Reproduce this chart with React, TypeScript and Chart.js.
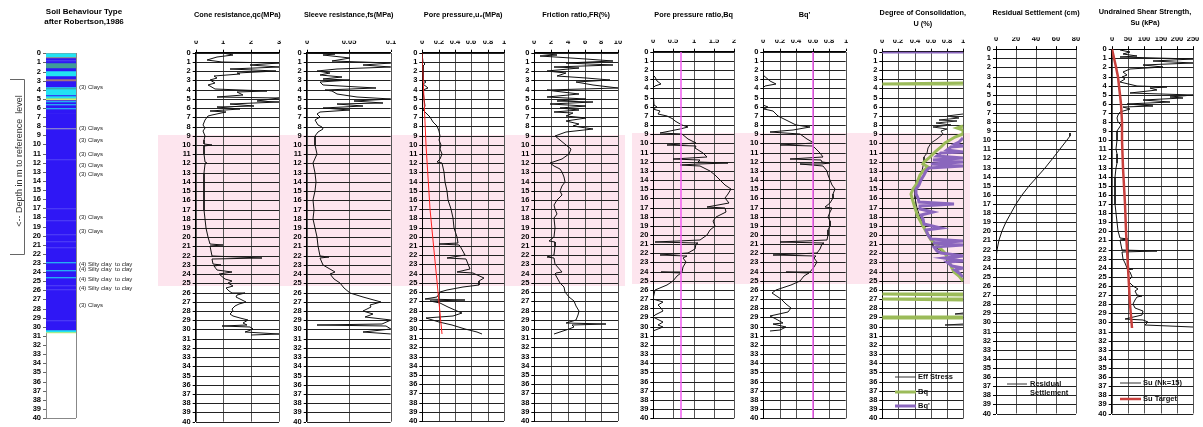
import React, { useEffect, useRef } from "react";
import { Chart, registerables } from "chart.js";

Chart.register(...registerables);

const FONT = '"Liberation Sans", Arial, Helvetica, sans-serif';
const H = 427;
const Y_AXIS_W = 18;
const X_AXIS_H = 12;
const PINK = "#fde5ee";
const PINK_TOP = 8.9;
const PINK_BOTTOM = 25.3;

// ---------------- data (depth m, value); null = gap in the trace ----------------
const qcData: (number | null)[][] = [[0,1.0],[0.25,1.35],[0.5,0.75],[0.8,0.42],[1.0,0.95],[1.15,3.0],[1.35,1.95],[1.5,3.0],[1.75,1.25],[2.0,2.9],[2.15,1.5],[2.3,1.6],[2.5,0.65],[2.75,0.75],[2.95,0.5],[3.25,0.7],[3.5,0.45],[3.65,0.5],[3.95,0.7],[4.1,2.55],[4.3,1.5],[4.55,1.7],[4.8,0.75],[4.95,3.0],[5.2,2.2],[5.35,3.0],[5.55,1.25],[5.75,2.1],[5.9,0.75],[6.1,1.6],[6.3,0.5],[6.45,1.1],[6.7,0.58],[6.9,0.45],[7.25,0.34],[7.8,0.28],[8.2,0.34],[8.5,0.28],[9.0,0.34],[9.5,0.3],[9.9,0.3],[10.0,0.58],[10.1,0.3],[11,0.3],[11.9,0.32],[12.0,0.42],[12.1,0.32],[13,0.3],[14,0.29],[15,0.3],[16,0.29],[17,0.31],[18,0.33],[19,0.37],[20,0.45],[20.7,0.5],[20.8,0.97],[20.9,0.52],[21.5,0.55],[22,0.58],[22.25,2.37],[22.35,0.6],[22.9,0.64],[23.0,0.9],[23.1,0.66],[23.6,0.75],[23.8,1.3],[24.0,0.85],[24.5,1.05],[24.8,1.3],[25.0,1.15],[25.3,1.35],[25.5,1.1],[25.8,1.2],[26.0,1.3],[26.1,1.78],[26.3,1.5],[26.5,1.45],[26.8,1.65],[27.0,1.8],[27.2,1.55],[27.5,1.42],[27.8,1.3],[28.0,1.35],[28.3,1.25],[28.5,1.36],[28.8,1.6],[29.0,1.9],[29.3,1.72],[29.5,1.85],[29.6,0.94],[29.7,1.95],[30.0,2.08],[30.2,1.9],[30.3,1.78],[30.45,3.0],[30.55,2.0]];

const fsData: (number | null)[][] = [[0,0.002],[0.15,0.034],[0.3,0.02],[0.6,0.052],[0.9,0.03],[1.1,0.1],[1.3,0.067],[1.5,0.1],[1.75,0.036],[2.0,0.012],[2.2,0.028],[2.4,0.016],[2.6,0.042],[2.8,0.02],[3.0,0.052],[3.2,0.016],[3.5,0.02],[3.8,0.083],[4.0,0.022],[4.2,0.03],[4.5,0.036],[4.8,0.06],[5.0,0.1],[5.2,0.056],[5.4,0.091],[5.6,0.036],[5.8,0.067],[6.0,0.02],[6.2,0.052],[6.4,0.016],[6.6,0.012],[7.0,0.016],[7.3,0.01],[7.8,0.014],[8.0,0.018],[8.3,0.02],[8.6,0.014],[9,0.01],[10,0.01],[11,0.012],[12,0.008],[13,0.01],[14,0.011],[15,0.01],[16,0.008],[17,0.009],[18,0.008],[19,0.01],[20,0.012],[21,0.014],[22,0.016],[22.2,0.026],[22.3,0.016],[23,0.02],[23.8,0.034],[24,0.028],[24.5,0.032],[25,0.04],[25.5,0.044],[26,0.052],[26.5,0.067],[27,0.089],[27.3,0.075],[27.6,0.077],[28,0.067],[28.3,0.079],[28.6,0.069],[29,0.1],[29.4,0.09],[29.5,0.012],[29.6,0.095],[30,0.1],[30.3,0.067],[30.5,0.1]];

const u2Data: (number | null)[][] = [[0,0],[1.0,0.005],[1.2,0.03],[1.4,0.005],[3.0,0.01],[3.2,0.05],[3.4,0.01],[3.8,0.07],[4.0,0.01],[5,0.02],[5.8,0.03],[6.2,0.01],[6.5,0.05],[7,0.09],[7.5,0.13],[8,0.18],[8.5,0.2],[9,0.22],[9.5,0.21],[10,0.23],[10.5,0.22],[11,0.24],[11.5,0.22],[11.9,0.18],[12,0.24],[13,0.26],[14,0.28],[15,0.3],[16,0.32],[17,0.35],[18,0.37],[19,0.39],[20,0.42],[20.7,0.44],[20.8,0.2],[20.9,0.45],[21,0.46],[22,0.52],[22.3,0.3],[22.4,0.53],[23,0.56],[23.5,0.58],[23.8,0.42],[23.9,0.62],[24,0.64],[24.5,0.75],[24.8,0.7],[25.2,0.69],[25.5,0.5],[25.8,0.3],[26,0.22],[26.5,0.18],[26.8,0.03],[26.9,0.52],[27.0,0.1],[27.2,0.22],[27.6,0.32],[28,0.42],[28.3,0.48],[28.6,0.38],[28.8,0.05],[29.2,0.2],[29.6,0.36],[30,0.52],[30.3,0.67],[30.5,0.73]];
const u0Data: (number | null)[][] = [[0,0],[10,0.05],[17,0.1],[26,0.195],[30.5,0.245]];

const frData: (number | null)[][] = [[0,0.3],[0.2,2.7],[0.4,0.7],[0.7,6.2],[0.9,9.4],[1.1,3.8],[1.3,9.4],[1.5,2.3],[1.7,5.4],[2.0,1.5],[2.2,3.8],[2.5,2.7],[2.8,6.2],[3.0,9.0],[3.2,5.0],[3.5,7.0],[3.8,10],[4.0,1.5],[4.2,2.3],[4.5,5.4],[4.8,1.5],[5.0,6.2],[5.2,2.7],[5.4,7.0],[5.6,1.9],[5.8,6.2],[6.0,3.1],[6.2,5.4],[6.4,2.3],[6.6,4.6],[6.9,3.8],[7.1,6.2],[7.4,3.8],[7.7,5.4],[8.0,4.6],[8.3,7.0],[8.6,3.8],[9.0,2.5],[9.5,3.1],[10,3.8],[10.5,4.4],[11,4.2],[11.5,3.3],[12,1.9],[12.3,2.3],[12.6,3.1],[13,3.3],[13.5,3.5],[14,3.7],[14.5,3.3],[15,3.1],[15.5,3.3],[16,2.7],[16.5,2.3],[17,2.5],[17.5,2.7],[18,2.3],[19,2.5],[20,2.3],[20.5,1.7],[20.6,2.5],[21,2.5],[22,2.3],[22.2,1.5],[22.3,2.4],[23,2.5],[23.8,3.3],[23.9,2.6],[24,2.5],[25,3.1],[25.5,3.5],[26,3.7],[26.5,4.2],[27,4.8],[27.5,5.0],[28,5.4],[28.5,5.2],[29,5.0],[29.4,3.8],[29.5,8.6],[29.6,4.5],[29.8,4.8],[30,4.2],[30.3,3.1],[30.5,2.3]];

const bqData: (number | null)[][] = [[0,0],[2.5,0],[2.8,0.04],[3.2,0.1],[3.5,0.2],[3.7,0.03],[4,0],[5.8,0.01],[6,0.08],[6.2,0],[6.5,0.16],[6.8,0.12],[7,0.33],[7.3,0.5],[7.6,0.53],[8,0.7],[8.2,0.86],[8.4,0.66],[8.7,0.41],[8.9,0.16],[9,0.7],[9.5,0.86],[10,1.07],[10.2,0.33],[10.3,1.05],[10.5,1.03],[11,1.23],[11.5,1.32],[11.7,0.5],[11.8,1.15],[12,1.11],[12.1,1.85],[12.2,1.1],[12.4,0.66],[12.5,1.15],[13,1.4],[13.5,1.52],[14,1.65],[14.5,1.77],[15,1.93],[15.5,1.85],[16,1.77],[16.5,1.88],[16.9,1.32],[17,1.77],[17.5,1.81],[18,1.56],[18.5,1.48],[19,1.52],[19.5,1.4],[20,1.32],[20.5,1.15],[20.8,0.04],[20.9,1.1],[21,1.07],[21.5,1.03],[22,0.86],[22.2,0.16],[22.3,0.84],[22.5,0.74],[23,0.82],[23.5,0.74],[24,0.7],[24.05,0.2],[24.1,0.68],[24.5,0.58],[25,0.5],[25.5,0.33],[26,0.04],[27,0],[27.3,0.25],[27.6,0.12],[28,0.2],[28.3,0.25],[28.7,0.04],[29,0],[29.5,0.25],[29.8,0.12],[30,0.25],[30.3,0.12],[30.5,0]];
const bqLimit: (number | null)[][] = [[0,0.68],[40,0.68]];

const bqsData: (number | null)[][] = [[0,0],[2.5,0],[3.2,0.08],[3.5,0.16],[3.7,0.02],[4,0],[5.8,0],[6,0.06],[6.2,0.01],[6.5,0.12],[7,0.18],[7.5,0.28],[8,0.4],[8.2,0.57],[8.5,0.36],[8.8,0.08],[9,0.45],[9.5,0.53],[10,0.61],[10.2,0.2],[10.3,0.6],[10.5,0.63],[11,0.69],[11.5,0.73],[11.7,0.33],[11.8,0.7],[12,0.71],[12.1,0.81],[12.2,0.7],[12.3,0.45],[12.5,0.73],[13,0.77],[13.5,0.79],[14,0.81],[14.5,0.83],[15,0.87],[15.5,0.85],[16,0.85],[16.5,0.81],[16.9,0.75],[17,0.83],[17.5,0.81],[18,0.79],[18.5,0.81],[19,0.81],[19.5,0.79],[20,0.79],[20.5,0.77],[20.8,0.2],[20.9,0.74],[21,0.71],[21.5,0.69],[22,0.65],[22.2,0.12],[22.3,0.64],[22.5,0.61],[23,0.65],[23.5,0.61],[24,0.57],[24.05,0.28],[24.1,0.56],[24.5,0.49],[25,0.45],[25.5,0.34],[26,0.16],[26.3,0.1],[26.6,0.14],[27,0.22],[27.5,0.28],[28,0.34],[28.4,0.3],[28.8,0.08],[29.2,0.16],[29.6,0.24],[29.7,0.12],[30,0.28],[30.4,0.2],[30.5,0.08]];
const bqsLimit: (number | null)[][] = [[0,0.6],[40,0.6]];

const effStressU: (number | null)[][] = [[6.8,1.0],[7.0,0.8],[7.2,0.95],[7.4,0.7],[7.6,0.92],[7.8,0.66],[8.0,0.85],[8.2,0.62],[8.4,0.8],[8.6,0.72],[9.0,0.75],[9.5,0.68],[10,0.6],[10.5,0.57],[11,0.55],[11.5,0.52],[12,0.52],[12.5,0.5],[13,0.49],[14,0.45],[15,0.4],[16,0.4],[17,0.43],[18,0.47],[19,0.52],[20,0.58],[20.8,0.62],[21.2,0.63],[22,0.78],[22.3,0.8],[23,0.8],[23.5,0.85],[24,0.9],[24.5,0.97],[25,1.0],[25.1,null],[28.55,1.0],[28.6,0.9],[28.65,1.0],[28.7,null],[29.75,1.0],[29.8,0.78],[29.85,1.0],[29.9,null]];
const bqU: (number | null)[][] = [[3.45,1],[3.5,0],[3.55,1],[3.6,null],[8.1,1],[8.3,0.92],[8.5,1],[9.0,1],[9.3,0.9],[9.6,0.84],[10,0.78],[10.4,0.72],[10.8,0.66],[11.2,0.62],[11.6,0.58],[12,0.52],[12.3,0.5],[12.6,0.56],[13,0.5],[13.5,0.46],[14,0.44],[14.5,0.41],[15,0.38],[15.5,0.36],[16,0.37],[17,0.4],[18,0.44],[19,0.5],[20,0.57],[20.5,0.6],[21,0.66],[21.5,0.72],[22,0.78],[23,0.82],[24,0.88],[24.5,0.95],[25,1],[25.1,null],[26.4,1],[26.45,0],[26.5,1],[26.55,null],[26.95,1],[27.0,0],[27.05,1],[27.1,null],[28.9,1],[28.95,0],[29.05,0],[29.1,1],[29.15,null]];
const bqsU: (number | null)[][] = [[0,0],[0.02,1],[0.05,null],[9.4,1],[9.8,0.95],[10.1,0.9],[10.3,1],[10.4,0.85],[10.7,0.8],[10.9,1],[11.1,0.72],[11.4,0.68],[11.6,1],[11.8,0.62],[12.0,1],[12.2,0.6],[12.5,1],[12.7,0.58],[13,0.54],[13.5,0.51],[14,0.48],[14.5,0.45],[15,0.42],[15.5,0.41],[16,0.44],[16.4,0.45],[16.6,0.88],[16.8,0.46],[17.2,0.47],[17.5,0.62],[17.8,0.48],[18.3,0.5],[18.8,0.52],[19.2,0.72],[19.5,0.54],[20,0.57],[20.4,0.6],[20.7,1],[20.9,0.62],[21.1,1],[21.3,0.64],[21.7,0.68],[22,0.72],[22.3,1],[22.5,0.76],[22.8,1],[23,0.8],[23.4,0.86],[23.6,1],[23.8,0.9],[24.2,0.95],[24.6,1]];

const settlementData: (number | null)[][] = [[9.2,74],[9.5,73.5],[10,71],[11,64],[12,57],[13,49],[14,41],[15,32.5],[16,26],[17,20],[18,14.5],[19,9.5],[20,5.5],[21,2.5],[22,1],[23,0.2],[23.6,0]];

const suData: (number | null)[][] = [[0.1,26],[0.3,56],[0.5,36],[0.7,77],[0.9,26],[1.1,250],[1.3,128],[1.5,250],[1.7,97],[2.0,158],[2.2,56],[2.5,36],[2.8,46],[3.0,31],[3.3,41],[3.6,26],[4.0,77],[4.1,168],[4.3,117],[4.5,138],[4.8,56],[5.0,250],[5.2,179],[5.4,219],[5.6,97],[5.8,179],[6.0,46],[6.2,128],[6.4,36],[6.6,56],[6.9,26],[7.2,20],[7.5,17],[8,20],[8.3,28],[8.6,22],[9,17],[10,15],[11,13],[11.5,15],[12,15],[12.5,17],[13,13],[14,11],[15,10],[16,10],[17,11],[18,13],[19,15],[20,20],[20.7,24],[20.8,51],[20.9,25],[21,26],[22,31],[22.2,138],[22.3,32],[23,36],[23.5,41],[24,46],[24.1,66],[24.2,47],[24.5,56],[25,61],[25.5,51],[26,66],[26.3,82],[26.6,71],[27,77],[27.1,92],[27.2,78],[27.5,71],[28,66],[28.4,70],[28.8,97],[29.2,92],[29.6,41],[29.7,97],[30,112],[30.3,102],[30.5,250]];
const suTarget: (number | null)[][] = [[0,0],[1,7],[2,13],[3,18],[4,22],[5,26],[6,29],[8,31],[10,33],[13,36],[17,41],[20,44],[24,51],[28,56],[30.6,61]];

// Soil behaviour type column: layer boundaries (m) and zone colour code per layer
const sbtBoundaries = [0,0.37,0.52,0.75,0.85,1.1,1.65,1.9,2.5,2.85,3.0,3.65,3.85,3.95,4.6,4.7,4.85,4.95,5.1,5.25,5.35,5.6,5.7,6.0,6.1,6.5,6.6,8.2,8.35,11.6,11.7,17.0,17.1,18.3,18.4,19.8,19.9,20.6,20.7,21.2,21.3,22.9,23.05,23.75,23.9,24.5,24.65,25.4,25.5,25.9,26.0,29.3,29.4,30.35,30.55,30.7];
const sbtCodes = ["C","R","B","L","B","T","B","C","B","R","B","C","T","C","B","C","T","Y","B","C","B","C","B","C","B","L","B","G","B","L","B","L","B","L","B","L","B","L","B","L","B","C","B","C","B","C","B","L","B","L","B","L","B","C","Y"];
const sbtPalette: Record<string, string> = { B: "#2f17f5", L: "#5446f6", C: "#22e2f2", T: "#3f9c98", R: "#a4767c", G: "#a3a3c6", Y: "#c6ec70" };
const sbtLabelDepth = [3.7, 8.2, 9.5, 11.0, 12.3, 13.2, 18.0, 19.45, 23.1, 23.7, 24.8, 25.7, 27.6];
const sbtLabelText = ["(3) Clays","(3) Clays","(3) Clays","(3) Clays","(3) Clays","(3) Clays","(3) Clays","(3) Clays","(4) Silty clay  to clay","(4) Silty clay  to clay","(4) Silty clay  to clay","(4) Silty clay  to clay","(3) Clays"];

// legends
const uLegendLabel = ["Eff Stress", "Bq", "Bq'"];
const uLegendDepth = [35.5, 37.1, 38.7];
const suLegendLabel = ["Su (Nk=15)", "Su Target"];
const suLegendDepth = [36.7, 38.4];

// ---------------- types ----------------
type Series = { data: (number | null)[][]; color: string; width: number };
type LegendItem = { text: string[]; textDepth: number[]; color: string; width: number; depth: number; x0: number; x1: number; tx: number };
type PanelCfg = {
  id: string; canvasL: number; canvasR: number; plotL: number; plotR: number; plotT: number; plotB: number;
  xMin: number; xMax: number; xStep: number; title: string[]; titleY: number[]; titleX?: number; titleSize?: number;
  pink: boolean; series: Series[]; legend?: LegendItem[];
};

const BLACK = "#111";
const GREEN = "#9bbb59";
const PURPLE = "#8a66bd";
const MAGENTA = "#f25cf2";

const panels: PanelCfg[] = [
  { id: "qc", canvasL: 158, canvasR: 287, plotL: 195.7, plotR: 279, plotT: 52.7, plotB: 421.7, xMin: 0, xMax: 3, xStep: 1,
    title: ["Cone resistance,qc(MPa)"], titleY: [15], pink: true, series: [{ data: qcData, color: BLACK, width: 1 }] },
  { id: "fs", canvasL: 281, canvasR: 399, plotL: 306.7, plotR: 390.7, plotT: 52.7, plotB: 421.7, xMin: 0, xMax: 0.1, xStep: 0.05,
    title: ["Sleeve resistance,fs(MPa)"], titleY: [15], pink: true, series: [{ data: fsData, color: BLACK, width: 1 }] },
  { id: "u2", canvasL: 392, canvasR: 512, plotL: 422.3, plotR: 504, plotT: 52.7, plotB: 421, xMin: 0, xMax: 1, xStep: 0.2,
    title: ["Pore pressure,u\u2082(MPa)"], titleY: [15], pink: true,
    series: [{ data: u0Data, color: "#ff2020", width: 1 }, { data: u2Data, color: BLACK, width: 1 }] },
  { id: "fr", canvasL: 507, canvasR: 625, plotL: 534.3, plotR: 618, plotT: 52.7, plotB: 421, xMin: 0, xMax: 10, xStep: 2,
    title: ["Friction ratio,FR(%)"], titleY: [15], pink: true, series: [{ data: frData, color: BLACK, width: 1 }] },
  { id: "bq", canvasL: 632, canvasR: 742, plotL: 653.3, plotR: 734, plotT: 51.7, plotB: 418.3, xMin: 0, xMax: 2, xStep: 0.5,
    title: ["Pore pressure ratio,Bq"], titleY: [15], pink: true,
    series: [{ data: bqLimit, color: MAGENTA, width: 1.5 }, { data: bqData, color: BLACK, width: 1 }] },
  { id: "bqs", canvasL: 736, canvasR: 853, plotL: 763.3, plotR: 845.7, plotT: 51.7, plotB: 418.3, xMin: 0, xMax: 1, xStep: 0.2,
    title: ["Bq'"], titleY: [15], pink: true,
    series: [{ data: bqsLimit, color: MAGENTA, width: 1.5 }, { data: bqsData, color: BLACK, width: 1 }] },
  { id: "u", canvasL: 852, canvasR: 970, plotL: 882.3, plotR: 963.3, plotT: 51.7, plotB: 418.3, xMin: 0, xMax: 1, xStep: 0.2,
    title: ["Degree of Consolidation,", "U (%)"], titleY: [13, 24], pink: true,
    series: [{ data: bqsU, color: PURPLE, width: 3 }, { data: bqU, color: GREEN, width: 3 }, { data: effStressU, color: "#222", width: 1 }],
    legend: [
      { text: [uLegendLabel[0]], textDepth: [uLegendDepth[0]], color: "#333", width: 1, depth: uLegendDepth[0], x0: 0.16, x1: 0.41, tx: 0.44 },
      { text: [uLegendLabel[1]], textDepth: [uLegendDepth[1]], color: GREEN, width: 3, depth: uLegendDepth[1], x0: 0.16, x1: 0.41, tx: 0.44 },
      { text: [uLegendLabel[2]], textDepth: [uLegendDepth[2]], color: PURPLE, width: 3, depth: uLegendDepth[2], x0: 0.16, x1: 0.41, tx: 0.44 },
    ] },
  { id: "res", canvasL: 966, canvasR: 1084, plotL: 996, plotR: 1076, plotT: 49.2, plotB: 413.5, xMin: 0, xMax: 80, xStep: 20,
    title: ["Residual Settlement (cm)"], titleY: [12.7], pink: false, series: [{ data: settlementData, color: BLACK, width: 1 }],
    legend: [{ text: ["Residual", "Settlement"], textDepth: [36.8, 37.8], color: "#333", width: 1, depth: 36.8, x0: 11, x1: 31, tx: 34 }] },
  { id: "su", canvasL: 1081, canvasR: 1203, plotL: 1111.7, plotR: 1193.3, plotT: 49.2, plotB: 413.5, xMin: 0, xMax: 250, xStep: 50,
    title: ["Undrained Shear Strength,", "Su (kPa)"], titleY: [12, 23], titleX: 1145, pink: false,
    series: [{ data: suTarget, color: "#c8403d", width: 2.5 }, { data: suData, color: BLACK, width: 1 }],
    legend: [
      { text: [suLegendLabel[0]], textDepth: [suLegendDepth[0]], color: "#333", width: 1, depth: suLegendDepth[0], x0: 25, x1: 89, tx: 95 },
      { text: [suLegendLabel[1]], textDepth: [suLegendDepth[1]], color: "#c8403d", width: 2.5, depth: suLegendDepth[1], x0: 25, x1: 89, tx: 95 },
    ] },
];

const tickFont = { family: FONT, size: 7.5, weight: "bold" as const };
const fmtTick = (v: any) => String(Number(Number(v).toFixed(4)));

function makeDeco(cfg: PanelCfg) {
  return {
    id: "deco",
    beforeDraw(chart: any) {
      if (!cfg.pink) return;
      const y = chart.scales.y;
      const ctx = chart.ctx;
      const t = y.getPixelForValue(PINK_TOP);
      const b = y.getPixelForValue(PINK_BOTTOM);
      ctx.save();
      ctx.fillStyle = PINK;
      ctx.fillRect(0, t, chart.width, b - t);
      ctx.restore();
    },
    afterDraw(chart: any) {
      const ctx = chart.ctx;
      const ca = chart.chartArea;
      const xs = chart.scales.x;
      const ys = chart.scales.y;
      ctx.save();
      ctx.fillStyle = "#000";
      ctx.textAlign = "center";
      ctx.textBaseline = "middle";
      ctx.font = `bold ${cfg.titleSize ?? 7.3}px ${FONT}`;
      const cx = cfg.titleX !== undefined ? cfg.titleX - cfg.canvasL : (ca.left + ca.right) / 2;
      cfg.title.forEach((t, i) => ctx.fillText(t, cx, cfg.titleY[i]));
      (cfg.legend || []).forEach((item) => {
        const py = ys.getPixelForValue(item.depth);
        ctx.strokeStyle = item.color;
        ctx.lineWidth = item.width;
        ctx.beginPath();
        ctx.moveTo(xs.getPixelForValue(item.x0), py);
        ctx.lineTo(xs.getPixelForValue(item.x1), py);
        ctx.stroke();
        ctx.font = `bold 7.5px ${FONT}`;
        ctx.textAlign = "left";
        ctx.fillStyle = "#111";
        item.text.forEach((t, i) => ctx.fillText(t, xs.getPixelForValue(item.tx), ys.getPixelForValue(item.textDepth[i])));
      });
      ctx.restore();
    },
  };
}

function buildConfig(cfg: PanelCfg): any {
  return {
    type: "scatter",
    data: {
      datasets: cfg.series.map((s) => ({
        data: s.data.map((p) => ({ x: p[1], y: p[0] })),
        showLine: true,
        spanGaps: false,
        borderColor: s.color,
        backgroundColor: s.color,
        borderWidth: s.width,
        pointRadius: 0,
        pointHoverRadius: 0,
        tension: 0,
      })),
    },
    options: {
      responsive: false,
      animation: false,
      devicePixelRatio: 1,
      events: [],
      layout: {
        autoPadding: false,
        padding: { left: cfg.plotL - cfg.canvasL - Y_AXIS_W, right: cfg.canvasR - cfg.plotR, top: cfg.plotT - X_AXIS_H, bottom: H - cfg.plotB },
      },
      plugins: { legend: { display: false }, tooltip: { enabled: false }, title: { display: false } },
      scales: {
        x: {
          type: "linear", position: "top", min: cfg.xMin, max: cfg.xMax, alignToPixels: true,
          ticks: { stepSize: cfg.xStep, autoSkip: false, maxRotation: 0, font: tickFont, color: "#000", padding: 3, callback: fmtTick },
          grid: { color: "#555", lineWidth: 1, tickLength: 3, tickColor: "#000" },
          border: { color: "#000", width: 1 },
          afterFit: (s: any) => { s.height = X_AXIS_H; s.paddingLeft = 0; s.paddingRight = 0; },
        },
        y: {
          type: "linear", reverse: true, min: 0, max: 40, alignToPixels: true,
          ticks: { stepSize: 1, autoSkip: false, font: tickFont, color: "#000", padding: 2, callback: fmtTick },
          grid: { color: "#222", lineWidth: 1, tickLength: 3, tickColor: "#000" },
          border: { color: "#000", width: 1 },
          afterFit: (s: any) => { s.width = Y_AXIS_W; s.paddingTop = 0; s.paddingBottom = 0; },
        },
      },
    },
    plugins: [makeDeco(cfg)],
  };
}

function Panel({ cfg }: { cfg: PanelCfg }) {
  const ref = useRef<HTMLCanvasElement>(null);
  useEffect(() => {
    const chart = new Chart(ref.current as HTMLCanvasElement, buildConfig(cfg));
    return () => chart.destroy();
  }, [cfg]);
  const w = cfg.canvasR - cfg.canvasL;
  return <canvas ref={ref} width={w} height={H} style={{ position: "absolute", left: cfg.canvasL, top: 0, width: w, height: H }} />;
}

// ---------------- soil behaviour type panel ----------------
const SBT = { canvasL: 0, canvasR: 150, plotL: 46, plotR: 76, plotT: 53.3, plotB: 418 };

function SbtPanel() {
  const ref = useRef<HTMLCanvasElement>(null);
  useEffect(() => {
    const datasets = sbtCodes.map((code, i) => ({
      data: [sbtBoundaries[i + 1] - sbtBoundaries[i]],
      backgroundColor: sbtPalette[code],
      borderWidth: 0,
      barPercentage: 1,
      categoryPercentage: 1,
    }));
    const deco = {
      id: "sbtDeco",
      afterDraw(chart: any) {
        const ctx = chart.ctx;
        const ys = chart.scales.y;
        const ca = chart.chartArea;
        ctx.save();
        ctx.fillStyle = "#000";
        ctx.textAlign = "center";
        ctx.textBaseline = "middle";
        ctx.font = `bold 8px ${FONT}`;
        ctx.fillText("Soil Behaviour Type", 84, 12);
        ctx.fillText("after Robertson,1986", 84, 21.5);
        ctx.font = `6px ${FONT}`;
        ctx.textAlign = "left";
        ctx.fillStyle = "#222";
        sbtLabelText.forEach((t, i) => ctx.fillText(t, ca.right + 3, ys.getPixelForValue(sbtLabelDepth[i])));
        const yc = ys.getPixelForValue(11.8);
        ctx.save();
        ctx.translate(19.5, yc);
        ctx.rotate(-Math.PI / 2);
        ctx.textAlign = "center";
        ctx.font = `9px ${FONT}`;
        ctx.fillStyle = "#333";
        ctx.fillText("<-- Depth in m to reference  level", 0, 0);
        ctx.restore();
        const yt = Math.round(ys.getPixelForValue(2.8)) + 0.5;
        const yb = Math.round(ys.getPixelForValue(22.0)) + 0.5;
        ctx.strokeStyle = "#666";
        ctx.lineWidth = 1;
        ctx.beginPath();
        ctx.moveTo(10, yt);
        ctx.lineTo(24.5, yt);
        ctx.lineTo(24.5, yb);
        ctx.lineTo(10, yb);
        ctx.stroke();
        ctx.restore();
      },
    };
    const chart = new Chart(ref.current as HTMLCanvasElement, {
      type: "bar",
      data: { labels: [""], datasets },
      options: {
        responsive: false,
        animation: false,
        devicePixelRatio: 1,
        events: [],
        layout: {
          autoPadding: false,
          padding: { left: SBT.plotL - SBT.canvasL - Y_AXIS_W, right: SBT.canvasR - SBT.plotR, top: SBT.plotT - X_AXIS_H, bottom: H - SBT.plotB },
        },
        plugins: { legend: { display: false }, tooltip: { enabled: false } },
        scales: {
          x: {
            type: "category", position: "top", stacked: true, offset: true,
            ticks: { display: false },
            grid: { offset: true, color: "#888", drawTicks: false },
            border: { color: "#888" },
            afterFit: (s: any) => { s.height = X_AXIS_H; s.paddingLeft = 0; s.paddingRight = 0; },
          },
          y: {
            type: "linear", stacked: true, reverse: true, min: 0, max: 40, alignToPixels: true,
            ticks: { stepSize: 1, autoSkip: false, font: tickFont, color: "#000", padding: 2 },
            grid: { color: (c: any) => (c.tick && c.tick.value === 40 ? "#888" : "rgba(0,0,0,0)"), tickColor: "#666", tickLength: 3 },
            border: { color: "#888" },
            afterFit: (s: any) => { s.width = Y_AXIS_W; s.paddingTop = 0; s.paddingBottom = 0; },
          },
        },
      } as any,
      plugins: [deco],
    });
    return () => chart.destroy();
  }, []);
  const w = SBT.canvasR - SBT.canvasL;
  return <canvas ref={ref} width={w} height={H} style={{ position: "absolute", left: SBT.canvasL, top: 0, width: w, height: H }} />;
}

export default function App() {
  return (
    <div style={{ position: "absolute", left: 0, top: 0, width: 1203, height: H, background: "#fff", overflow: "hidden" }}>
      <SbtPanel />
      {panels.map((p) => (
        <Panel key={p.id} cfg={p} />
      ))}
    </div>
  );
}
